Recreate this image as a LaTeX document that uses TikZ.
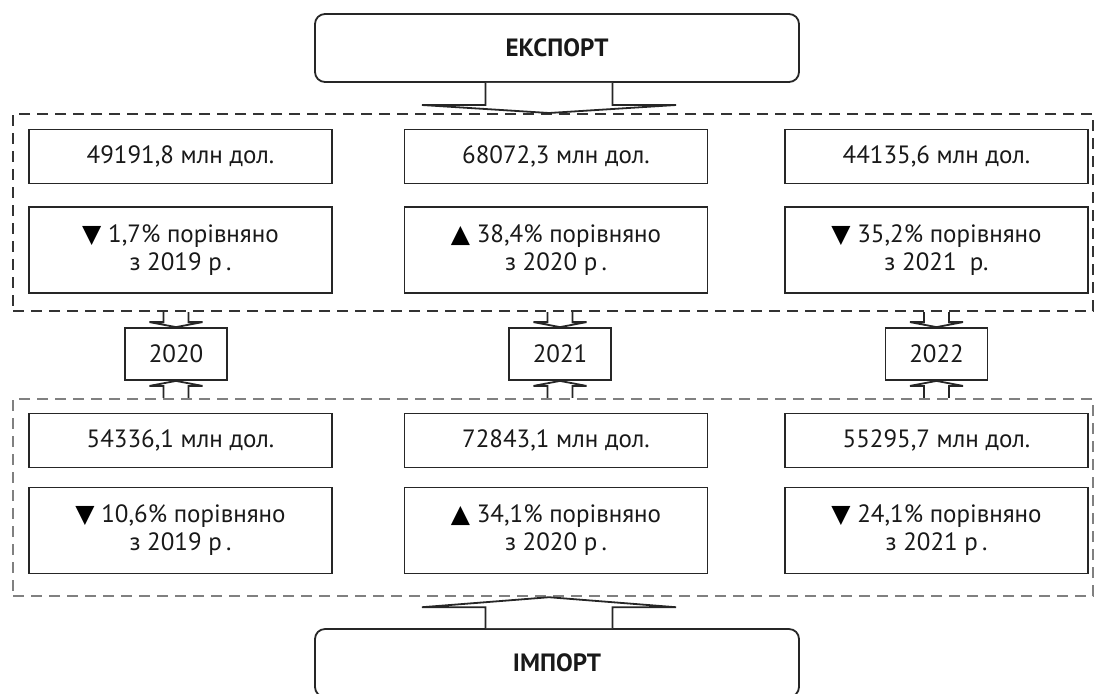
\documentclass[tikz,border=0pt]{standalone}
\usepackage{fontspec}
\setmainfont{PT Sans}
\newfontfamily\symfont{DejaVu Sans}
\usetikzlibrary{calc}

\newcommand{\hollowarrow}[5]{%
  \draw[arrowbody] ($(#1)+(-#3,0)$) -- ($(#2)!#5!(#1)+(-#3,0)$)
    -- ($(#2)!#5!(#1)+(-#4,0)$) -- (#2) -- ($(#2)!#5!(#1)+(#4,0)$)
    -- ($(#2)!#5!(#1)+(#3,0)$) -- ($(#1)+(#3,0)$);}
\newcommand{\trdown}{{\symfont\fontsize{12.5}{12}\selectfont\color{black}▼}}
\newcommand{\trup}{{\symfont\fontsize{12.5}{12}\selectfont\color{black}▲}}

\begin{document}
\begin{tikzpicture}[x=0.5pt, y=-0.5pt, line width=0.9pt, black!85,
    every node/.style={font=\fontsize{12.5}{14}\selectfont, text=black!90},
    valbox/.style={draw, minimum width=151.5pt, minimum height=27pt, inner sep=0pt},
    pctbox/.style={draw, minimum width=151.5pt, minimum height=43pt, inner sep=0pt, align=center},
    yearbox/.style={draw, minimum width=51pt, minimum height=26pt, inner sep=0pt},
    headbox/.style={draw, rounded corners=5pt, minimum width=242pt, minimum height=34pt,
      font=\fontsize{12.5}{14}\selectfont\bfseries},
    rowframe/.style={draw, dash pattern=on 5.5pt off 3.5pt, minimum width=540pt, minimum height=98.5pt},
    arrowbody/.style={draw, fill=white, line join=miter}]
    \useasboundingbox (0,0) rectangle (1097,693);
    \clip (0,0) rectangle (1097,693);

    \node [headbox] (exp) at (557,48) {ЕКСПОРТ};
    \node [rowframe, black!80, line width=1pt] (exprow) at (553,212.5) {};
    \node [rowframe, black!50, line width=1.2pt] (improw) at (553,497.5) {};
    \node [headbox] (imp) at (557,663) {ІМПОРТ};

    \node [valbox] (ev1) at (180.5,156.5) {49191,8 млн дол.};
    \node [valbox] (ev2) at (556,156.5) {68072,3 млн дол.};
    \node [valbox] (ev3) at (936.5,156.5) {44135,6 млн дол.};
    \node [pctbox] (ep1) at (180.5,250) {\trdown{} 1,7\% порівняно\\з 2019 р\,.};
    \node [pctbox] (ep2) at (556,250) {\trup{} 38,4\% порівняно\\з 2020 р\,.};
    \node [pctbox] (ep3) at (936.5,250) {\trdown{} 35,2\% порівняно\\з 2021~ р.};

    \node [yearbox] (y20) at (176,354) {2020};
    \node [yearbox] (y21) at (560,354) {2021};
    \node [yearbox] (y22) at (936.5,354) {2022};

    \node [valbox] (iv1) at (180.5,440.5) {54336,1 млн дол.};
    \node [valbox] (iv2) at (556,440.5) {72843,1 млн дол.};
    \node [valbox] (iv3) at (936.5,440.5) {55295,7 млн дол.};
    \node [pctbox] (ip1) at (180.5,530.5) {\trdown{} 10,6\% порівняно\\з 2019 р\,.};
    \node [pctbox] (ip2) at (556,530.5) {\trup{} 34,1\% порівняно\\з 2020 р\,.};
    \node [pctbox] (ip3) at (936.5,530.5) {\trdown{} 24,1\% порівняно\\з 2021 р\,.};

    \coordinate (ea) at (549,0);
    \coordinate (ia) at (549,0);
    \hollowarrow{exp.south -| ea}{exprow.north -| ea}{63.5}{127}{4pt}
    \hollowarrow{imp.north -| ia}{improw.south -| ia}{63.5}{127}{5pt}
    \foreach \y in {y20,y21,y22} {
        \hollowarrow{exprow.south -| \y}{\y.north}{12.5}{26.5}{2.5pt}
        \hollowarrow{improw.north -| \y}{\y.south}{12.5}{26.5}{2.5pt}
    }
\end{tikzpicture}
\end{document}
